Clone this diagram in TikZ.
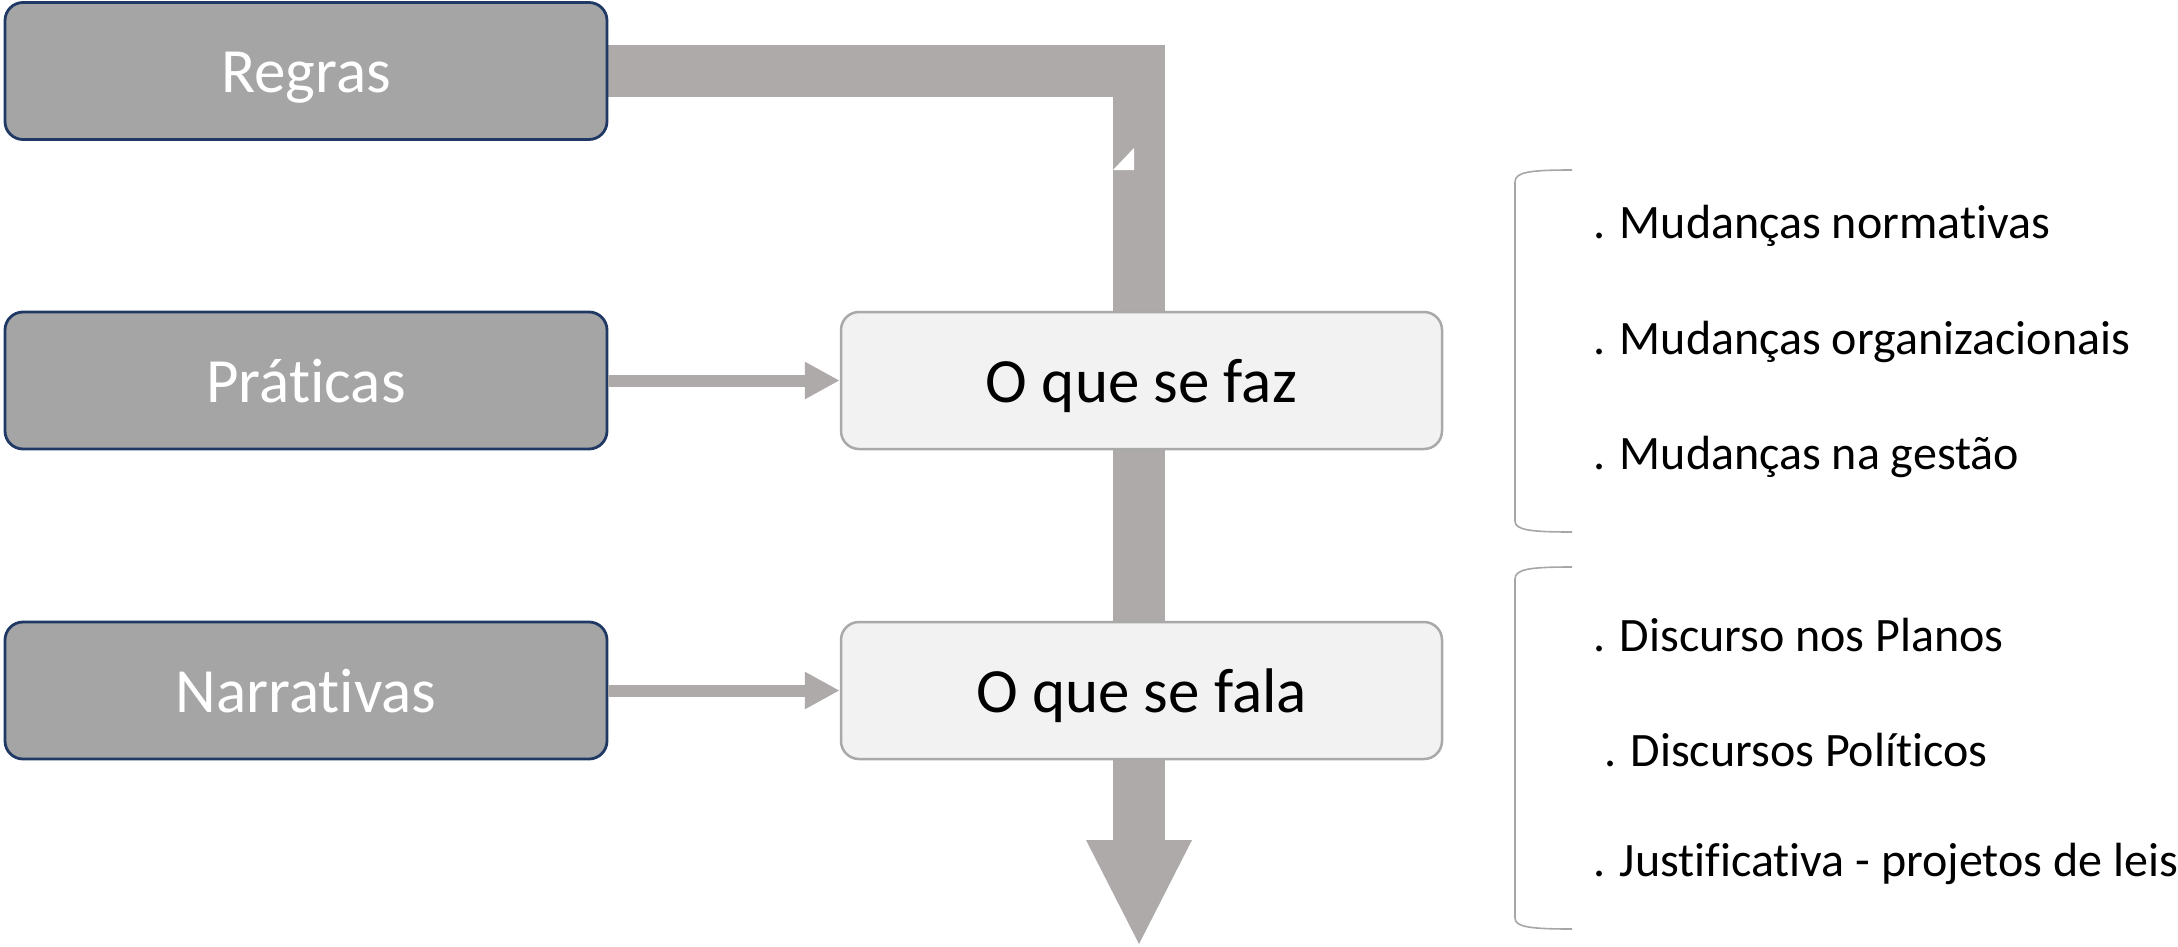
\documentclass[tikz,border=0pt]{standalone}
\usepackage{fontspec}
\setmainfont{Carlito}[RawFeature={-liga;-clig;-dlig;-calt;-rlig}]
\usetikzlibrary{arrows.meta,backgrounds}
\definecolor{arrowgray}{HTML}{AEAAAA}
\definecolor{leftfill}{HTML}{A5A5A5}
\definecolor{leftdraw}{HTML}{1F3864}
\definecolor{midfill}{HTML}{F2F2F2}
\definecolor{middraw}{HTML}{A9A9A9}
\definecolor{brackgray}{HTML}{A6A6A6}
\tikzset{
  leftbox/.style={draw=leftdraw, line width=2.8pt, fill=leftfill, rounded corners=18pt,
    minimum width=602pt, minimum height=137pt, inner sep=0pt, text=white,
    text height=48pt, text depth=4pt,
    font=\fontsize{63}{75}\selectfont},
  midbox/.style={draw=middraw, line width=2.5pt, fill=midfill, rounded corners=18pt,
    minimum width=601pt, minimum height=137pt, inner sep=0pt, text=black,
    text height=48pt, text depth=4pt,
    font=\fontsize{63}{75}\selectfont},
  item/.style={anchor=west, inner sep=0pt, text=black, font=\fontsize{48}{58}\selectfont},
  smallarrow/.style={draw=arrowgray, line width=12pt, -{Triangle[length=35pt,width=35pt]}},
  bigband/.style={draw=arrowgray, line width=52pt, line join=miter},
  bracket/.style={draw=brackgray, line width=1.6pt}
}
\begin{document}
\begin{tikzpicture}[x=1pt,y=-1pt]
\useasboundingbox (0,0) rectangle (2178,947);
% left boxes
\node[leftbox] (regras) at (306,71) {Regras};
\node[leftbox] (praticas) at (306,380.5) {Práticas};
\node[leftbox] (narrativas) at (306,690.5) {Narrativas};
% middle boxes
\node[midbox] (faz) at (1141.5,380.5) {O que se faz};
\node[midbox] (fala) at (1141.5,690.5) {O que se fala};
% big arrow
\coordinate (corner) at (1139,71);
\coordinate (bandend) at (1139,840);
\coordinate (tip) at (1139,944);
\begin{scope}[on background layer]
  \draw[bigband] (regras.east) -- (corner) -- (bandend);
  \fill[arrowgray] (1086,840) -- (1192,840) -- (tip) -- cycle;
  \fill[white] (1113,170) -- (1134,170) -- (1134,148) -- cycle;
\end{scope}
% small arrows
\draw[smallarrow] (praticas.east) -- (faz.west);
\draw[smallarrow] (narrativas.east) -- (fala.west);
% brackets
\draw[bracket] (1572,170) .. controls (1530,170) and (1515,172) .. (1515,182) -- (1515,521) .. controls (1515,530) and (1530,532) .. (1572,532);
\draw[bracket] (1572,567) .. controls (1530,567) and (1515,569) .. (1515,579) -- (1515,918) .. controls (1515,927) and (1530,929) .. (1572,929);
% items
\node[item] (i1) at (1593,226) {. Mudanças normativas};
\node[item] (i2) at (1593,342) {. Mudanças organizacionais};
\node[item] (i3) at (1593,457) {. Mudanças na gestão};
\node[item] (i4) at (1593,635) {. Discurso nos Planos};
\node[item] (i5) at (1593,750) {\ . Discursos Políticos};
\node[item] (i6) at (1593,864) {. Justificativa - projetos de leis};
\end{tikzpicture}
\end{document}
